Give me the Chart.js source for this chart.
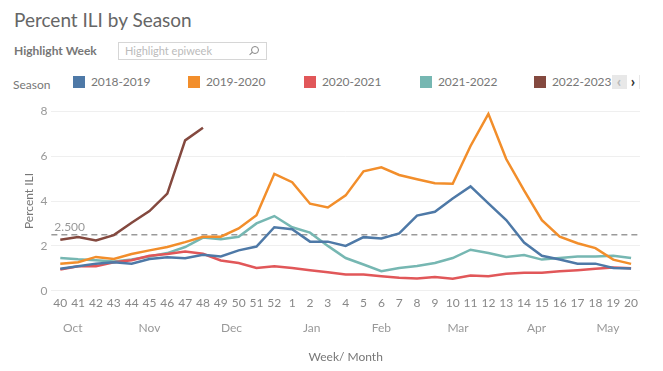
<!DOCTYPE html>
<html>
<head>
<meta charset="utf-8">
<script src="https://cdn.jsdelivr.net/npm/chart.js@4/dist/chart.umd.min.js"></script>
<style>
    body { margin: 0; background: #fff; font-family: Lato, "Open Sans", sans-serif; }
    #wrap { position: relative; width: 663px; height: 371px; overflow: hidden; }
    #title { position: absolute; left: 14px; top: 8px; font-size: 19px; color: #666; }
    #hl { position: absolute; left: 14px; top: 43px; font-size: 12px; font-weight: bold; color: #777; }
    #search { position: absolute; left: 118px; top: 42px; width: 147px; height: 16px; border: 1px solid #d6d6d6; }
    #search span { position: absolute; left: 6px; top: 1px; font-size: 11px; color: #bbb; }
    #lens { position: absolute; right: 7px; top: 3px; width: 6px; height: 6px; border: 1px solid #888; border-radius: 50%; }
    #lens:after { content: ""; position: absolute; left: -3px; top: 6px; width: 4px; height: 1px; background: #888; transform: rotate(-45deg); }
    #season { position: absolute; left: 13px; top: 77px; font-size: 12px; color: #777; }
    .item { position: absolute; top: 76px; font-size: 12px; color: #777; }
    .item i { position: absolute; left: 0; top: 0; width: 12px; height: 12px; }
    .item span { position: absolute; left: 18px; top: -2px; white-space: nowrap; letter-spacing: -0.1px; }
    #arrows { position: absolute; left: 612px; top: 75px; width: 28px; height: 14px; background: #e8e8e8; font-size: 15px; font-weight: bold; line-height: 13px; z-index: 2; }
    #arrows b { position: absolute; top: 0; width: 12px; height: 14px; text-align: center; }
</style>
</head>
<body>
<div id="wrap">
    <div id="title">Percent ILI by Season</div>
    <div id="hl">Highlight Week</div>
    <div id="search"><span>Highlight epiweek</span><div id="lens"></div></div>
    <div id="season">Season</div>
    <div id="legend"></div>
    <div id="arrows"><b style="left:1px;color:#b8b8b8">&lsaquo;</b><b style="left:15px;background:#fff;color:#333">&rsaquo;</b></div>
    <canvas id="chart" width="663" height="271" style="position:absolute;left:0;top:100px"></canvas>
</div>
<script>
// week numbers of the flu season
let weeks = ["40", "41", "42", "43", "44", "45", "46", "47", "48", "49", "50", "51", "52",
    "1", "2", "3", "4", "5", "6", "7", "8", "9", "10", "11", "12", "13", "14", "15", "16", "17", "18", "19", "20"];

// month names and where they sit along the week axis (in week index units)
let months = ["Oct", "Nov", "Dec", "Jan", "Feb", "Mar", "Apr", "May"];
let monthPos = [0.7, 5, 9.6, 14.1, 18, 22.3, 26.7, 30.7];

let seasons = ["2018-2019", "2019-2020", "2020-2021", "2021-2022", "2022-2023"];
let colors = ["#4e79a7", "#f28e2b", "#e15759", "#76b7b2", "#84493f"];

let ili2018 = [0.98, 1.09, 1.21, 1.27, 1.21, 1.42, 1.49, 1.45, 1.61, 1.53, 1.80, 1.97, 2.83, 2.74, 2.19, 2.19, 2.00,
    2.39, 2.33, 2.56, 3.35, 3.52, 4.11, 4.65, 3.89, 3.15, 2.15, 1.56, 1.39, 1.21, 1.21, 1.02, 0.99];
let ili2019 = [1.21, 1.27, 1.51, 1.42, 1.64, 1.80, 1.95, 2.17, 2.41, 2.41, 2.78, 3.37, 5.21, 4.84, 3.88, 3.71, 4.25,
    5.32, 5.50, 5.16, 4.97, 4.79, 4.77, 6.45, 7.88, 5.87, 4.47, 3.15, 2.41, 2.12, 1.90, 1.39, 1.20];
let ili2020 = [0.95, 1.09, 1.09, 1.27, 1.36, 1.56, 1.64, 1.75, 1.65, 1.35, 1.24, 1.02, 1.09, 1.02, 0.92, 0.83, 0.73,
    0.73, 0.65, 0.58, 0.55, 0.61, 0.54, 0.68, 0.65, 0.76, 0.80, 0.80, 0.87, 0.92, 0.98, 1.04, 1.00];
let ili2021 = [1.46, 1.40, 1.36, 1.30, 1.39, 1.53, 1.68, 1.95, 2.37, 2.30, 2.41, 3.00, 3.33, 2.83, 2.59, 2.00, 1.46,
    1.17, 0.87, 1.02, 1.10, 1.24, 1.46, 1.83, 1.68, 1.51, 1.59, 1.39, 1.46, 1.53, 1.53, 1.56, 1.46];
let ili2022 = [2.27, 2.40, 2.24, 2.48, 3.03, 3.55, 4.33, 6.70, 7.26];

let baseline = 2.5;

let seriesData = [ili2018, ili2019, ili2020, ili2021, ili2022];

// legend, tableau style
let legend = document.getElementById("legend");
let legendX = [73, 188, 304, 420, 534];
seasons.forEach((s, i) => {
    legend.innerHTML += `<div class="item" style="left:${legendX[i]}px"><i style="background:${colors[i]}"></i><span>${s}</span></div>`;
});

let refLine = {
    id: "refLine",
    beforeDatasetsDraw(chart) {
        let ctx = chart.ctx;
        let area = chart.chartArea;
        let y = chart.scales.y.getPixelForValue(baseline);
        ctx.save();
        ctx.strokeStyle = "#9a9a9a";
        ctx.lineWidth = 1.5;
        ctx.setLineDash([6, 4]);
        ctx.beginPath();
        ctx.moveTo(area.left, y);
        ctx.lineTo(area.right, y);
        ctx.stroke();
        ctx.fillStyle = "#999";
        ctx.font = "12px Lato";
        ctx.textBaseline = "bottom";
        ctx.fillText(baseline.toFixed(3), area.left + 3, y - 2);
        ctx.restore();
    }
};

new Chart(document.getElementById("chart"), {
    type: "line",
    data: {
        labels: weeks,
        datasets: seriesData.map((d, i) => ({
            label: seasons[i],
            data: d,
            borderColor: colors[i],
            backgroundColor: colors[i],
            borderWidth: 2.5,
            pointRadius: 0,
            tension: 0,
            xAxisID: "x"
        }))
    },
    options: {
        responsive: false,
        animation: false,
        layout: { padding: { left: 18, right: 23, top: 1, bottom: 3 } },
        plugins: { legend: { display: false }, tooltip: { enabled: false } },
        scales: {
            x: {
                offset: true,
                grid: { display: false, drawTicks: false },
                border: { display: false },
                ticks: { autoSkip: false, maxRotation: 0, padding: 5, color: "#888", font: { family: "Lato", size: 12 } }
            },
            month: {
                type: "linear",
                position: "bottom",
                min: -0.5,
                max: weeks.length - 0.5,
                afterBuildTicks: axis => { axis.ticks = monthPos.map(v => ({ value: v })); },
                grid: { display: false, drawTicks: false },
                border: { display: false },
                ticks: {
                    autoSkip: false, maxRotation: 0, padding: 6, color: "#999",
                    font: { family: "Lato", size: 12 },
                    callback: (v, i) => months[i]
                },
                title: { display: true, text: "Week/ Month", color: "#777", padding: { top: 8, bottom: 4 }, font: { family: "Lato", size: 12 } }
            },
            y: {
                min: 0,
                max: 8,
                ticks: { stepSize: 2, padding: 4, color: "#999", font: { family: "Lato", size: 12 } },
                grid: { color: "#efefef", drawTicks: false },
                border: { display: false },
                title: { display: true, text: "Percent ILI", color: "#777", padding: { top: 4, bottom: 0 }, font: { family: "Lato", size: 12 } }
            }
        }
    },
    plugins: [refLine]
});
</script>
</body>
</html>
